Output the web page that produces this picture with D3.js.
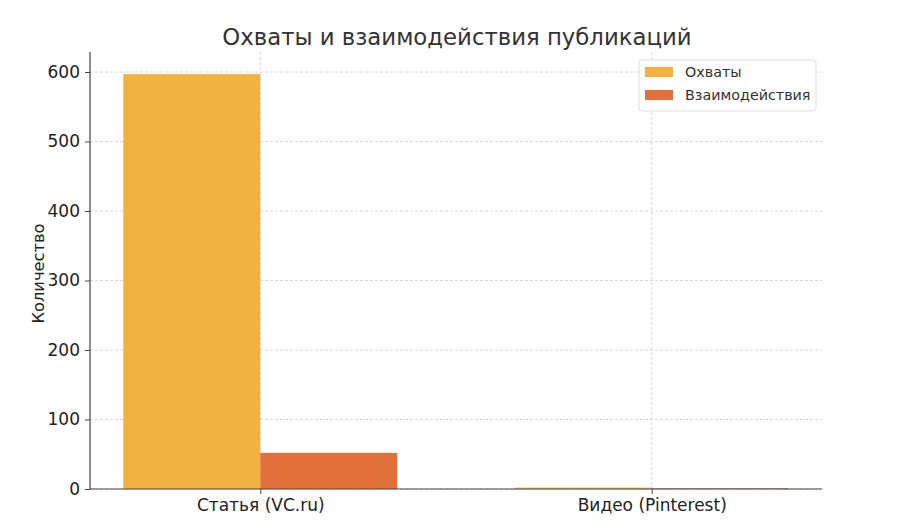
<!DOCTYPE html>
<html><head><meta charset="utf-8">
<script src="https://cdn.jsdelivr.net/npm/d3@7"></script>
<style>body{margin:0;background:#fff}svg{font-family:"DejaVu Sans",sans-serif}</style>
</head><body>
<svg id="c" width="900" height="529"></svg>
<script>
const categories = ["Статья (VC.ru)", "Видео (Pinterest)"];
const seriesNames = ["Охваты", "Взаимодействия"];
const reach = [597, 2];
const interactions = [52, 1];
const yTicks = [0, 100, 200, 300, 400, 500, 600];
const colors = ["#F3B23F", "#E2703A"];

const svg = d3.select("#c");
const L = 90, R = 822, T = 52, B = 489;
const x = d3.scaleLinear().domain([-0.435, 1.435]).range([L, R]);
const y = d3.scaleLinear().domain([0, 628.8]).range([B, T]);
const bw = 0.35;
const gridC = "#cccccc";

svg.append("g").selectAll("line").data(yTicks).join("line")
  .attr("x1", L).attr("x2", R).attr("y1", d => y(d)).attr("y2", d => y(d))
  .attr("stroke", gridC).attr("stroke-dasharray", "3,2").attr("stroke-width", 0.8);
svg.append("g").selectAll("line").data(categories).join("line")
  .attr("x1", (d,i) => x(i)).attr("x2", (d,i) => x(i)).attr("y1", T).attr("y2", B)
  .attr("stroke", gridC).attr("stroke-dasharray", "3,2").attr("stroke-width", 0.8);

const series = [reach, interactions];
series.forEach((vals, s) => {
  svg.append("g").selectAll("rect").data(vals).join("rect")
    .attr("x", (d,i) => x(i - bw + s*bw)).attr("width", x(bw) - x(0))
    .attr("y", d => y(d)).attr("height", d => y(0) - y(d))
    .attr("fill", colors[s]);
});

const yAxis = d3.axisLeft(y).tickValues(yTicks).tickSize(5).tickPadding(5);
const gy = svg.append("g").attr("transform", `translate(${L},0)`).call(yAxis);
gy.select(".domain").attr("d", `M0,${T}V${B}`);
const xAxis = d3.axisBottom(x).tickValues([0,1]).tickFormat(i => categories[i]).tickSize(5).tickPadding(5);
const gx = svg.append("g").attr("transform", `translate(0,${B})`).call(xAxis);
gx.select(".domain").attr("d", `M${L},0H${R}`);
[gx, gy].forEach(g => {
  g.select(".domain").attr("stroke", "#444").attr("stroke-width", 1.2);
  g.selectAll(".tick line").attr("stroke", "#444");
  g.selectAll(".tick text").attr("fill", "#222").attr("font-size", 17).attr("font-family", "DejaVu Sans");
});

svg.append("text").attr("x", 457).attr("y", 45).attr("text-anchor", "middle")
  .attr("font-size", 22.8).attr("fill", "#333").text("Охваты и взаимодействия публикаций");
svg.append("text").attr("transform", `translate(44,${(T+B)/2+3}) rotate(-90)`).attr("text-anchor", "middle")
  .attr("font-size", 16.3).attr("fill", "#222").text("Количество");

const lg = svg.append("g").attr("transform", "translate(639,60)");
lg.append("rect").attr("width", 177).attr("height", 51).attr("rx", 3)
  .attr("fill", "#fff").attr("fill-opacity", 0.85).attr("stroke", "#ddd");
seriesNames.forEach((n, i) => {
  lg.append("rect").attr("x", 6).attr("y", 7 + i*23).attr("width", 28).attr("height", 10).attr("fill", colors[i]);
  lg.append("text").attr("x", 46).attr("y", 17 + i*23).attr("font-size", 14.3).attr("fill", "#333").text(n);
});
</script>
</body></html>
